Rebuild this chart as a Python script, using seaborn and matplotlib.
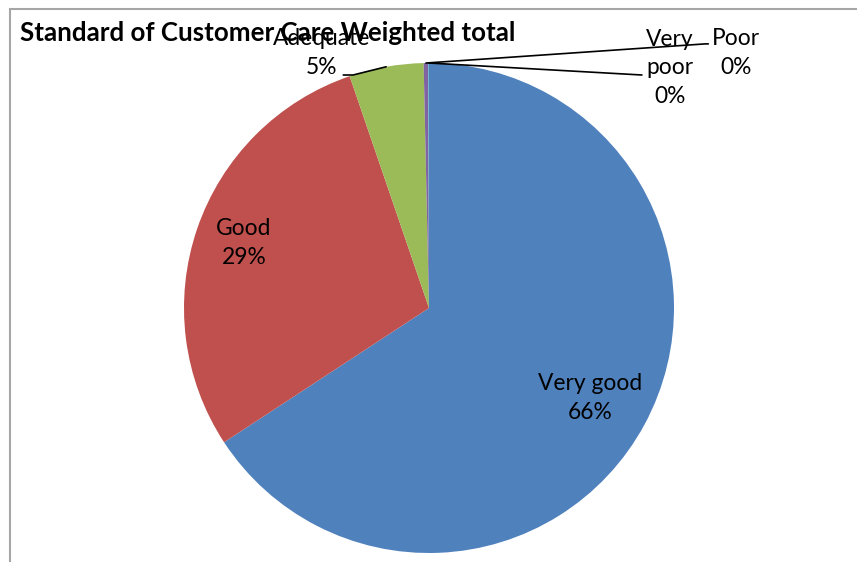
import matplotlib
matplotlib.use("Agg")
import matplotlib.pyplot as plt
import seaborn as sns
import numpy as np
from matplotlib.patches import Rectangle

sns.set_style("white")
plt.rcParams['font.family'] = ['Lato', 'DejaVu Sans']
plt.rcParams['text.color'] = 'black'

# data
categories = ['Very good', 'Good', 'Adequate', 'Poor', 'Very poor']
values = [65.8, 29.0, 4.9, 0.3, 0.05]
pct_labels = ['66%', '29%', '5%', '0%', '0%']
colors = ['#4F81BD', '#C0504D', '#9BBB59', '#8064A2', '#4BACC6']

W, H = 857, 562
fig = plt.figure(figsize=(W / 100, H / 100), dpi=100)

# chart border (only top and left edges visible in the reference)
fig.add_artist(Rectangle((10 / W, -0.1), 1.2, (H - 9) / H + 0.1, transform=fig.transFigure,
                         fill=False, edgecolor='#a6a6a6', linewidth=1.5))

cx, cy, r = 429, 308, 245
ax = fig.add_axes([(cx - r) / W, (H - cy - r) / H, 2 * r / W, 2 * r / H])
wedges, _ = ax.pie(values, colors=colors, startangle=90, counterclock=False,
                   wedgeprops=dict(linewidth=0))
ax.set_xlim(-1, 1)
ax.set_ylim(-1, 1)
ax.set_aspect('equal')
ax.axis('off')

fs = 16.4
ls = 1.45
# labels inside the big slices
ax.text(0.657, -0.367, f"{categories[0]}\n{pct_labels[0]}", ha='center', va='center', fontsize=fs, linespacing=ls)
ax.text(-0.755, 0.265, f"{categories[1]}\n{pct_labels[1]}", ha='center', va='center', fontsize=fs, linespacing=ls)


def edge_point(w):
    th = np.deg2rad((w.theta1 + w.theta2) / 2)
    return np.cos(th), np.sin(th)


# Adequate label with leader
ax.text(-0.437, 1.041, f"{categories[2]}\n{pct_labels[2]}", ha='center', va='center', fontsize=fs,
        linespacing=ls, clip_on=False)
px, py = edge_point(wedges[2])
ax.plot([-0.35, -0.31, px], [0.951, 0.951, py], color='black', lw=1.2, clip_on=False)

# Poor and Very poor labels with leaders
px, py = edge_point(wedges[3])
ax.plot([px, 1.127, 1.14], [py, 1.078, 1.078], color='black', lw=1.2, clip_on=False)
ax.text(1.253, 1.041, f"{categories[3]}\n{pct_labels[3]}", ha='center', va='center', fontsize=fs,
        linespacing=ls, clip_on=False)
px, py = edge_point(wedges[4])
ax.plot([px, 0.869], [py, 0.951], color='black', lw=1.2, clip_on=False)
ax.text(0.984, 0.98, "Very\npoor\n0%", ha='center', va='center', fontsize=fs,
        linespacing=ls, clip_on=False)

fig.text(20 / W, 1 - 33 / H, "Standard of Customer Care Weighted total", fontsize=18.6,
         fontweight='bold', ha='left', va='center')

fig.savefig("out.png", dpi=100)
